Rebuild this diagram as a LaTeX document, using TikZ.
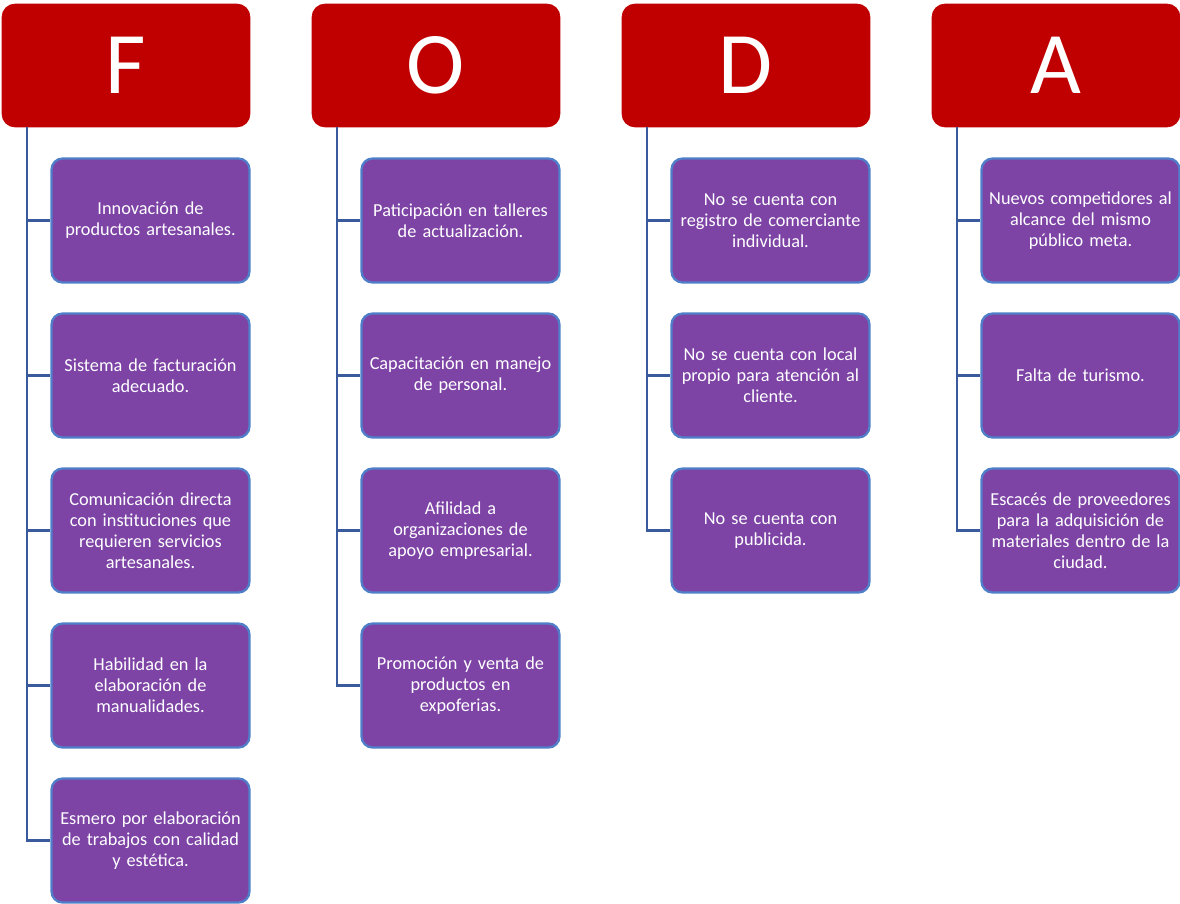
\documentclass[tikz,border=0pt]{standalone}
\usepackage{fontspec}
\setmainfont{Carlito}
\usetikzlibrary{positioning}

\definecolor{headred}{HTML}{C00000}
\definecolor{boxpurple}{HTML}{7D44A6}
\definecolor{boxblue}{HTML}{4F7FC8}
\definecolor{linkblue}{HTML}{3A5A9E}

\tikzset{
  header/.style={fill=headred, draw=headred, rounded corners=0.26cm,
    minimum width=4.96cm, minimum height=2.46cm, inner sep=0pt,
    text=white, font=\fontsize{50}{52}\selectfont},
  item/.style={fill=boxpurple, draw=boxblue, line width=1.3pt, rounded corners=0.22cm,
    minimum width=3.96cm, minimum height=2.48cm, inner sep=0pt,
    text width=3.8cm, align=center, text=white,
    font=\fontsize{10.4}{12}\selectfont},
  link/.style={draw=linkblue, line width=1.2pt}
}

\begin{document}
\begin{tikzpicture}[x=0.02cm, y=-0.02cm]
\useasboundingbox (0,0) rectangle (1180,903);

% headers
\node[header] (hF) at (126,65.5) {F};
\node[header] (hO) at (436,65.5) {O};
\node[header] (hD) at (746,65.5) {D};
\node[header] (hA) at (1056,65.5) {A};

% F
\node[item] (f1) at (150.5,220.5) {Innovación de\\productos artesanales.};
\node[item] (f2) at (150.5,375.5) {Sistema de facturación\\adecuado.};
\node[item] (f3) at (150.5,530.5) {Comunicación directa\\con instituciones que\\requieren servicios\\artesanales.};
\node[item] (f4) at (150.5,685.5) {Habilidad en la\\elaboración de\\manualidades.};
\node[item] (f5) at (150.5,840.5) {Esmero por elaboración\\de trabajos con calidad\\y estética.};

% O
\node[item] (o1) at (460.5,220.5) {Paticipación en talleres\\de actualización.};
\node[item] (o2) at (460.5,375.5) {Capacitación en manejo\\de personal.};
\node[item] (o3) at (460.5,530.5) {Afilidad a\\organizaciones de\\apoyo empresarial.};
\node[item] (o4) at (460.5,685.5) {Promoción y venta de\\productos en\\expoferias.};

% D
\node[item] (d1) at (770.5,220.5) {No se cuenta con\\registro de comerciante\\individual.};
\node[item] (d2) at (770.5,375.5) {No se cuenta con local\\propio para atención al\\cliente.};
\node[item] (d3) at (770.5,530.5) {No se cuenta con\\publicida.};

% A
\node[item] (a1) at (1080.5,220.5) {Nuevos competidores al\\alcance del mismo\\público meta.};
\node[item] (a2) at (1080.5,375.5) {Falta de turismo.};
\node[item] (a3) at (1080.5,530.5) {Escacés de proveedores\\para la adquisición de\\materiales dentro de la\\ciudad.};

% connectors
\foreach \c in {f1,f2,f3,f4,f5}
  \draw[link] ([xshift=0.5cm]hF.south west) |- (\c.west);
\foreach \c in {o1,o2,o3,o4}
  \draw[link] ([xshift=0.5cm]hO.south west) |- (\c.west);
\foreach \c in {d1,d2,d3}
  \draw[link] ([xshift=0.5cm]hD.south west) |- (\c.west);
\foreach \c in {a1,a2,a3}
  \draw[link] ([xshift=0.5cm]hA.south west) |- (\c.west);
\end{tikzpicture}
\end{document}
